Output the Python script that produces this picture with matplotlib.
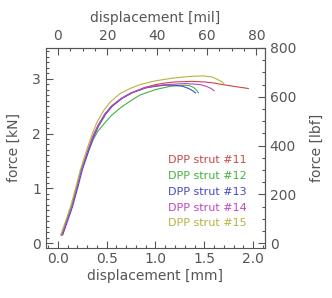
import matplotlib
matplotlib.use("Agg")
import matplotlib.pyplot as plt
from matplotlib.ticker import MultipleLocator, FormatStrFormatter

# data (displacement in mm, force in kN)
labels = ["DPP strut #11", "DPP strut #12", "DPP strut #13", "DPP strut #14", "DPP strut #15"]
colors = ["#c84848", "#40b440", "#4848c8", "#c048c0", "#b4b440"]

x11 = [0.04, 0.08, 0.14, 0.2, 0.24, 0.31, 0.36, 0.41, 0.48, 0.55, 0.65, 0.75, 0.89, 1.0, 1.1,
       1.2, 1.38, 1.5, 1.6, 1.69, 1.8, 1.95]
y11 = [0.15, 0.35, 0.66, 1.05, 1.33, 1.7, 1.95, 2.14, 2.35, 2.5, 2.64, 2.74, 2.84, 2.89, 2.92,
       2.94, 2.95, 2.94, 2.92, 2.89, 2.86, 2.82]
x12 = [0.04, 0.08, 0.14, 0.2, 0.24, 0.31, 0.36, 0.41, 0.48, 0.55, 0.65, 0.75, 0.84, 1.0, 1.15,
       1.3, 1.35, 1.39, 1.42, 1.44]
y12 = [0.15, 0.35, 0.66, 1.05, 1.33, 1.66, 1.88, 2.04, 2.19, 2.33, 2.48, 2.6, 2.7, 2.8, 2.86,
       2.88, 2.87, 2.84, 2.79, 2.74]
x13 = [0.05, 0.09, 0.15, 0.21, 0.25, 0.32, 0.37, 0.42, 0.49, 0.56, 0.66, 0.76, 0.9, 1.0, 1.1,
       1.2, 1.28, 1.34, 1.38, 1.41]
y13 = [0.15, 0.35, 0.66, 1.05, 1.33, 1.7, 1.95, 2.14, 2.35, 2.5, 2.64, 2.74, 2.83, 2.86, 2.88,
       2.88, 2.86, 2.82, 2.78, 2.74]
x14 = [0.04, 0.08, 0.14, 0.2, 0.24, 0.31, 0.36, 0.41, 0.48, 0.55, 0.65, 0.75, 0.89, 1.0, 1.1,
       1.2, 1.3, 1.4, 1.46, 1.52, 1.57, 1.6]
y14 = [0.15, 0.35, 0.66, 1.05, 1.33, 1.7, 1.95, 2.14, 2.35, 2.5, 2.64, 2.74, 2.83, 2.87, 2.89,
       2.9, 2.91, 2.9, 2.89, 2.86, 2.82, 2.78]
x15 = [0.03, 0.07, 0.13, 0.19, 0.23, 0.3, 0.35, 0.4, 0.47, 0.54, 0.64, 0.74, 0.84, 1.0, 1.18,
       1.35, 1.49, 1.58, 1.64, 1.68, 1.7]
y15 = [0.15, 0.35, 0.66, 1.05, 1.33, 1.72, 1.98, 2.2, 2.42, 2.58, 2.73, 2.82, 2.89, 2.96, 3.01,
       3.04, 3.05, 3.03, 2.98, 2.94, 2.91]

xs = [x11, x12, x13, x14, x15]
ys = [y11, y12, y13, y14, y15]

MM_PER_MIL = 0.0254
KN_PER_LBF = 0.00444822

grey = "#555555"
plt.rcParams["font.family"] = "DejaVu Sans"
plt.rcParams["font.size"] = 10

fig = plt.figure(figsize=(3.32, 2.98), dpi=100)
ax = fig.add_axes([0.1386, 0.169, 0.6594, 0.670])

for x, y, c in zip(xs, ys, colors):
    ax.plot(x, y, color=c, lw=0.8)

ax.set_xlim(-0.12, 2.12)
ax.set_ylim(-0.08, 800 * KN_PER_LBF)

for i, (lab, c) in enumerate(zip(labels, colors)):
    ax.text(1.13, 1.52 - 0.29 * i, lab, color=c, fontsize=8, va="center")

ax.set_xlabel("displacement [mm]", color=grey, labelpad=2)
ax.set_ylabel("force [kN]", color=grey, labelpad=8)
ax.xaxis.set_major_locator(MultipleLocator(0.5))
ax.xaxis.set_minor_locator(MultipleLocator(0.1))
ax.yaxis.set_major_locator(MultipleLocator(1))
ax.yaxis.set_minor_locator(MultipleLocator(0.1))
ax.xaxis.set_major_formatter(FormatStrFormatter("%.1f"))

top = ax.secondary_xaxis("top", functions=(lambda v: v / MM_PER_MIL, lambda v: v * MM_PER_MIL))
top.set_xlabel("displacement [mil]", color=grey, labelpad=5)
top.xaxis.set_major_locator(MultipleLocator(20))
top.xaxis.set_minor_locator(MultipleLocator(5))

right = ax.secondary_yaxis("right", functions=(lambda v: v / KN_PER_LBF, lambda v: v * KN_PER_LBF))
right.set_ylabel("force [lbf]", color=grey, labelpad=10)
right.yaxis.set_major_locator(MultipleLocator(200))
right.yaxis.set_minor_locator(MultipleLocator(50))

for a in [ax, top, right]:
    a.tick_params(which="both", direction="in", colors=grey, labelcolor=grey, width=0.8)
    a.tick_params(which="major", length=5)
    a.tick_params(which="minor", length=2.5)
    for s in a.spines.values():
        s.set_color(grey)
ax.tick_params(top=False, right=False, which="both")

fig.savefig("out.png", dpi=100)
